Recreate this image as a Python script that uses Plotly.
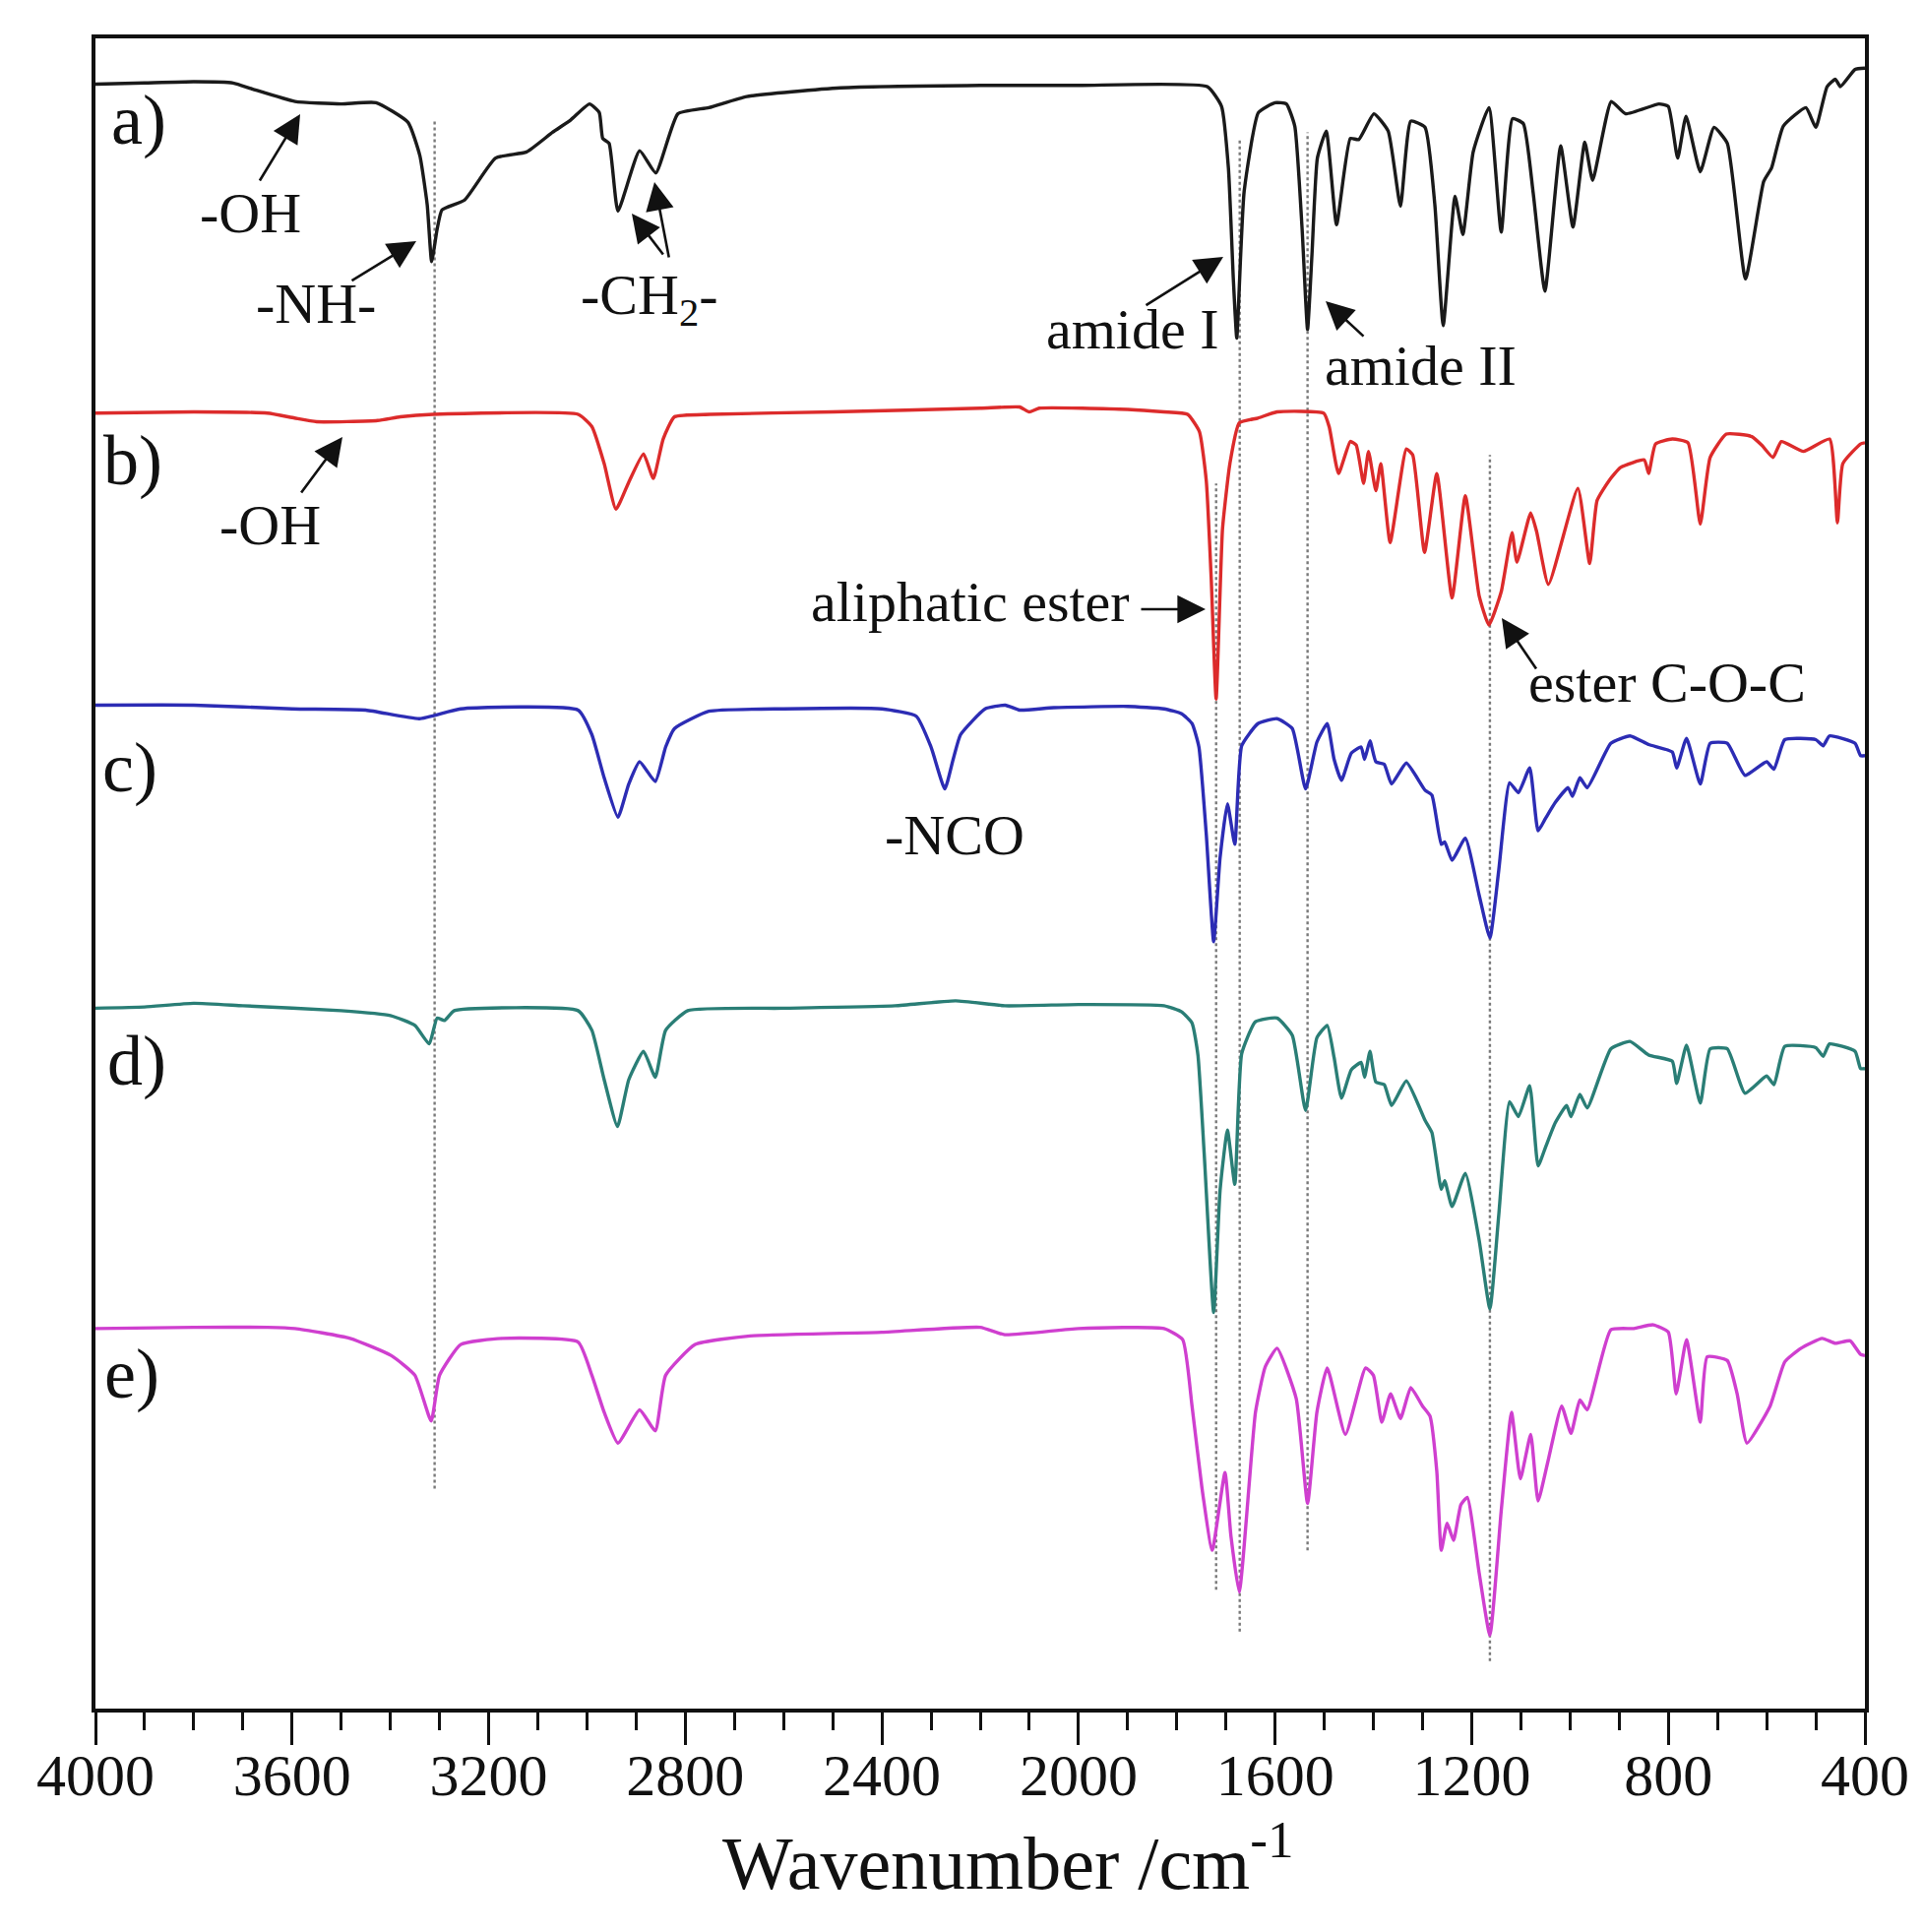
import plotly.graph_objects as go

# ---------------- data ----------------
# wavenumber (cm-1) and stacked transmittance (arbitrary units, offset per curve)
a_wn = [4000,3900,3800,3720,3680,3594,3500,3429,3364,3340,3325,3316,3305,3295,3249,3186,3123,3070,3033,2995,
        2975,2968,2955,2937,2893,2860,2815,2752,2675,2484,2200,2000,1738,1709,1695,1685,1678,1670,1663,1634,
        1600,1577,1560,1545,1534,1525,1514,1496,1475,1447,1430,1399,1370,1345,1324,1295,1275,1258,1234,1218,
        1197,1165,1140,1117,1095,1075,1051,1019,994,970,954,916,887,819,800,781,764,735,707,680,
        643,606,590,566,520,500,477,460,450,420,400]
a_T = [1319,1320,1321,1320,1315,1305,1303,1304,1288,1261,1221,1175,1201,1217,1225,1259,1264,1280,1290,1303,
       1296,1275,1271,1216,1265,1247,1295,1300,1309,1316,1318,1318,1317,1301,1251,1161,1113,1181,1232,1296,
       1304,1303,1285,1201,1120,1181,1259,1281,1205,1275,1274,1295,1281,1220,1289,1284,1221,1123,1228,1197,
       1264,1300,1199,1291,1287,1231,1151,1269,1203,1272,1241,1305,1295,1303,1301,1259,1293,1248,1284,1271,
       1161,1240,1251,1285,1300,1284,1317,1323,1317,1331,1332]

b_wn = [4000,3800,3650,3595,3550,3426,3380,3313,3018,2990,2965,2941,2915,2885,2865,2845,2822,2750,2500,2200,
        2120,2100,2080,1900,1826,1778,1754,1740,1730,1720,1707,1692,1673,1635,1596,1501,1490,1471,1447,1435,
        1420,1410,1395,1385,1366,1333,1320,1296,1271,1240,1213,1185,1165,1140,1118,1108,1080,1068,1044,984,
        960,945,921,897,849,840,826,792,760,735,715,682,630,610,587,570,525,472,456,445,409,400]
b_T = [1052,1053,1052,1048,1045,1046,1049,1051,1051,1041,1011,974,996,1019,999,1031,1049,1051,1053,1056,
       1057,1053,1056,1055,1053,1051,1037,997,918,820,958,1011,1044,1048,1053,1052,1041,1003,1029,1026,
       995,1021,989,1011,947,1023,1018,939,1003,902,985,904,880,907,955,931,971,956,913,991,
       930,981,997,1008,1014,1003,1027,1031,1028,962,1016,1035,1033,1026,1016,1029,1021,1031,963,1011,1027,1028]

c_wn = [4000,3800,3600,3450,3341,3257,3018,2990,2965,2937,2915,2893,2861,2840,2822,2752,2600,2400,2330,2300,
        2272,2255,2240,2190,2149,2120,2050,1900,1826,1790,1769,1755,1740,1725,1712,1697,1682,1668,1635,1596,
        1565,1538,1515,1494,1480,1465,1445,1425,1418,1407,1395,1378,1363,1333,1295,1281,1262,1255,1240,1213,
        1185,1163,1145,1123,1105,1082,1065,1050,1030,1004,995,980,965,917,878,840,792,783,763,735,
        715,680,644,600,585,563,500,485,472,420,409,400]
c_T = [815,815,812,811,804,812,811,791,756,724,751,769,753,781,796,810,812,812,806,781,
       747,771,791,812,815,811,813,814,812,808,800,781,710,623,691,735,702,782,800,804,
       796,747,785,800,771,754,776,781,771,786,769,767,751,768,746,742,702,704,689,707,
       661,626,681,752,744,764,713,723,736,748,741,756,748,784,790,783,777,764,788,751,
       784,784,758,769,763,787,787,782,790,784,774,774]

d_wn = [4000,3900,3800,3700,3500,3400,3350,3321,3305,3290,3270,3018,2990,2965,2938,2915,2885,2861,2840,2795,
        2600,2373,2250,2150,2000,1826,1790,1769,1757,1744,1725,1712,1697,1682,1668,1640,1596,1565,1538,1515,
        1494,1480,1465,1445,1425,1418,1407,1395,1378,1363,1333,1295,1281,1262,1255,1240,1213,1185,1163,1145,
        1123,1105,1082,1065,1050,1030,1007,998,980,965,917,878,840,792,783,763,735,715,680,644,
        600,585,563,500,485,472,420,409,400]
d_T = [569,570,573,571,567,563,555,540,561,559,567,567,551,511,473,511,534,513,551,567,
       569,571,575,571,572,571,566,557,531,449,322,421,470,426,532,558,561,547,486,545,
       555,529,496,519,525,513,534,509,507,490,510,478,468,422,429,408,435,381,325,401,
       493,481,506,441,456,476,490,481,499,488,536,542,531,526,508,539,492,536,536,500,
       514,507,538,537,530,540,534,520,520]

e_wn = [4000,3800,3650,3594,3482,3398,3350,3317,3300,3257,3173,3018,2990,2965,2937,2893,2861,2840,2780,2668,
        2400,2200,2150,2000,1826,1788,1769,1749,1728,1702,1690,1673,1640,1620,1596,1557,1534,1515,1494,1457,
        1416,1400,1383,1365,1345,1324,1300,1285,1271,1262,1250,1237,1222,1209,1185,1163,1140,1119,1101,1080,
        1065,1045,1017,998,980,965,917,870,831,800,784,763,735,721,680,660,640,593,563,530,
        487,460,430,409,400]
e_T = [309,310,310,309,301,287,271,234,271,296,301,298,271,241,216,243,226,271,296,303,
       306,310,304,309,309,300,246,180,129,192,141,95,241,278,293,252,167,241,277,223,
       277,271,233,256,236,261,246,238,193,129,151,137,166,172,111,60,161,241,187,223,
       169,201,246,224,251,243,308,309,312,306,256,300,233,286,283,256,216,246,282,293,
       301,297,299,288,287]

# dotted guide lines: wavenumber, top and bottom (same units as T)
guide_wn = [3310, 1720, 1672, 1534, 1163]
guide_top = [1289, 995, 1275, 1280, 1018]
guide_bottom = [179, 97, 63, 129, 39]

x_ticks = [4000, 3600, 3200, 2800, 2400, 2000, 1600, 1200, 800, 400]

series = [
    ("a)", a_wn, a_T, "#1a1a1a"),
    ("b)", b_wn, b_T, "#dc2b2b"),
    ("c)", c_wn, c_T, "#2c2cb4"),
    ("d)", d_wn, d_T, "#2a7e76"),
    ("e)", e_wn, e_T, "#cf3fcf"),
]
for name, xs, ys, col in series:
    assert len(xs) == len(ys), (name, len(xs), len(ys))

# ---------------- figure ----------------
W, H = 1954, 1963
L, R, T, B = 89, 1887, 31, 1728
Y0, Y1 = 0.5, 1356.2
FONT = "Liberation Serif, Times New Roman, serif"

fig = go.Figure()
for name, xs, ys, col in series:
    fig.add_trace(go.Scatter(x=xs, y=ys, mode="lines", name=name,
                             line=dict(color=col, width=3.4, shape="spline", smoothing=0.45),
                             showlegend=False, hoverinfo="skip"))

shapes = []
for gx, gt, gb in zip(guide_wn, guide_top, guide_bottom):
    shapes.append(dict(type="line", xref="x", yref="y", x0=gx, x1=gx, y0=gb, y1=gt,
                       line=dict(color="#7a7a7a", width=2.4, dash="dot"), layer="below"))


def to_data(px, py):
    """convert a pixel position of the page to axis coordinates (for annotation placement)"""
    wn = 4000 - (px - L) / (R - L) * 3600
    v = Y1 - (py - T) / (B - T) * (Y1 - Y0)
    return wn, v


ann = []


def add_text(txt, px, py, size=58, xanchor="center"):
    x, y = to_data(px, py)
    ann.append(dict(x=x, y=y, xref="x", yref="y", text=txt, showarrow=False,
                    xanchor=xanchor, yanchor="middle",
                    font=dict(family=FONT, size=size, color="#111111")))


def add_arrow(tail, head):
    hx, hy = to_data(*head)
    tx, ty = to_data(*tail)
    ann.append(dict(x=hx, y=hy, ax=tx, ay=ty, xref="x", yref="y", axref="x", ayref="y",
                    text="", showarrow=True, arrowhead=2, arrowsize=2.2, arrowwidth=2.6,
                    arrowcolor="#111111", standoff=0, startstandoff=0))


# curve labels
for lab, (px, py) in zip(["a)", "b)", "c)", "d)", "e)"],
                         [(133, 114), (127, 460), (124, 772), (131, 1070), (126, 1388)]):
    add_text(lab, px, py, size=72)

# peak annotations
add_text("-OH", 246, 208)
add_text("-NH-", 313, 300)
add_text("-CH<sub>2</sub>-", 652, 295)
add_text("amide I", 1143, 326)
add_text("amide II", 1435, 363)
add_text("-OH", 266, 525)
add_text("aliphatic ester", 1142, 603, xanchor="right")
add_text("ester C-O-C", 1686, 685)
add_text("-NCO", 962, 840)

add_arrow((255, 177), (297, 108))
add_arrow((348, 278), (415, 237))
add_arrow((667, 252), (634, 209))
add_arrow((672, 255), (657, 177))
add_arrow((1155, 303), (1235, 253))
add_arrow((1379, 335), (1339, 298))
add_arrow((297, 494), (340, 436))
add_arrow((1150, 611), (1217, 611))
add_arrow((1554, 673), (1518, 620))

# axis title
ann.append(dict(x=(1016 - L) / (R - L), y=-(1879 - B) / (B - T), xref="paper", yref="paper",
                text="Wavenumber /cm<sup>-1</sup>", showarrow=False, xanchor="center", yanchor="middle",
                font=dict(family=FONT, size=76, color="#111111")))

fig.update_layout(
    width=W, height=H,
    margin=dict(l=L, r=W - R, t=T, b=H - B, pad=0),
    paper_bgcolor="white", plot_bgcolor="white",
    shapes=shapes, annotations=ann,
    xaxis=dict(range=[4000, 400], tickmode="array", tickvals=x_ticks,
               ticktext=[str(v) for v in x_ticks],
               ticks="outside", ticklen=33, tickwidth=3, tickcolor="#111111",
               ticklabelstandoff=-21,
               showline=True, linewidth=4, linecolor="#111111", mirror=True,
               showgrid=False, zeroline=False,
               tickfont=dict(family=FONT, size=60, color="#111111"),
               minor=dict(ticks="outside", ticklen=18, tickwidth=3, tickcolor="#111111",
                          tickmode="linear", tick0=400, dtick=100, showgrid=False)),
    yaxis=dict(range=[Y0, Y1], showticklabels=False, ticks="",
               showline=True, linewidth=4, linecolor="#111111", mirror=True,
               showgrid=False, zeroline=False),
)

fig.write_html("out.html")
